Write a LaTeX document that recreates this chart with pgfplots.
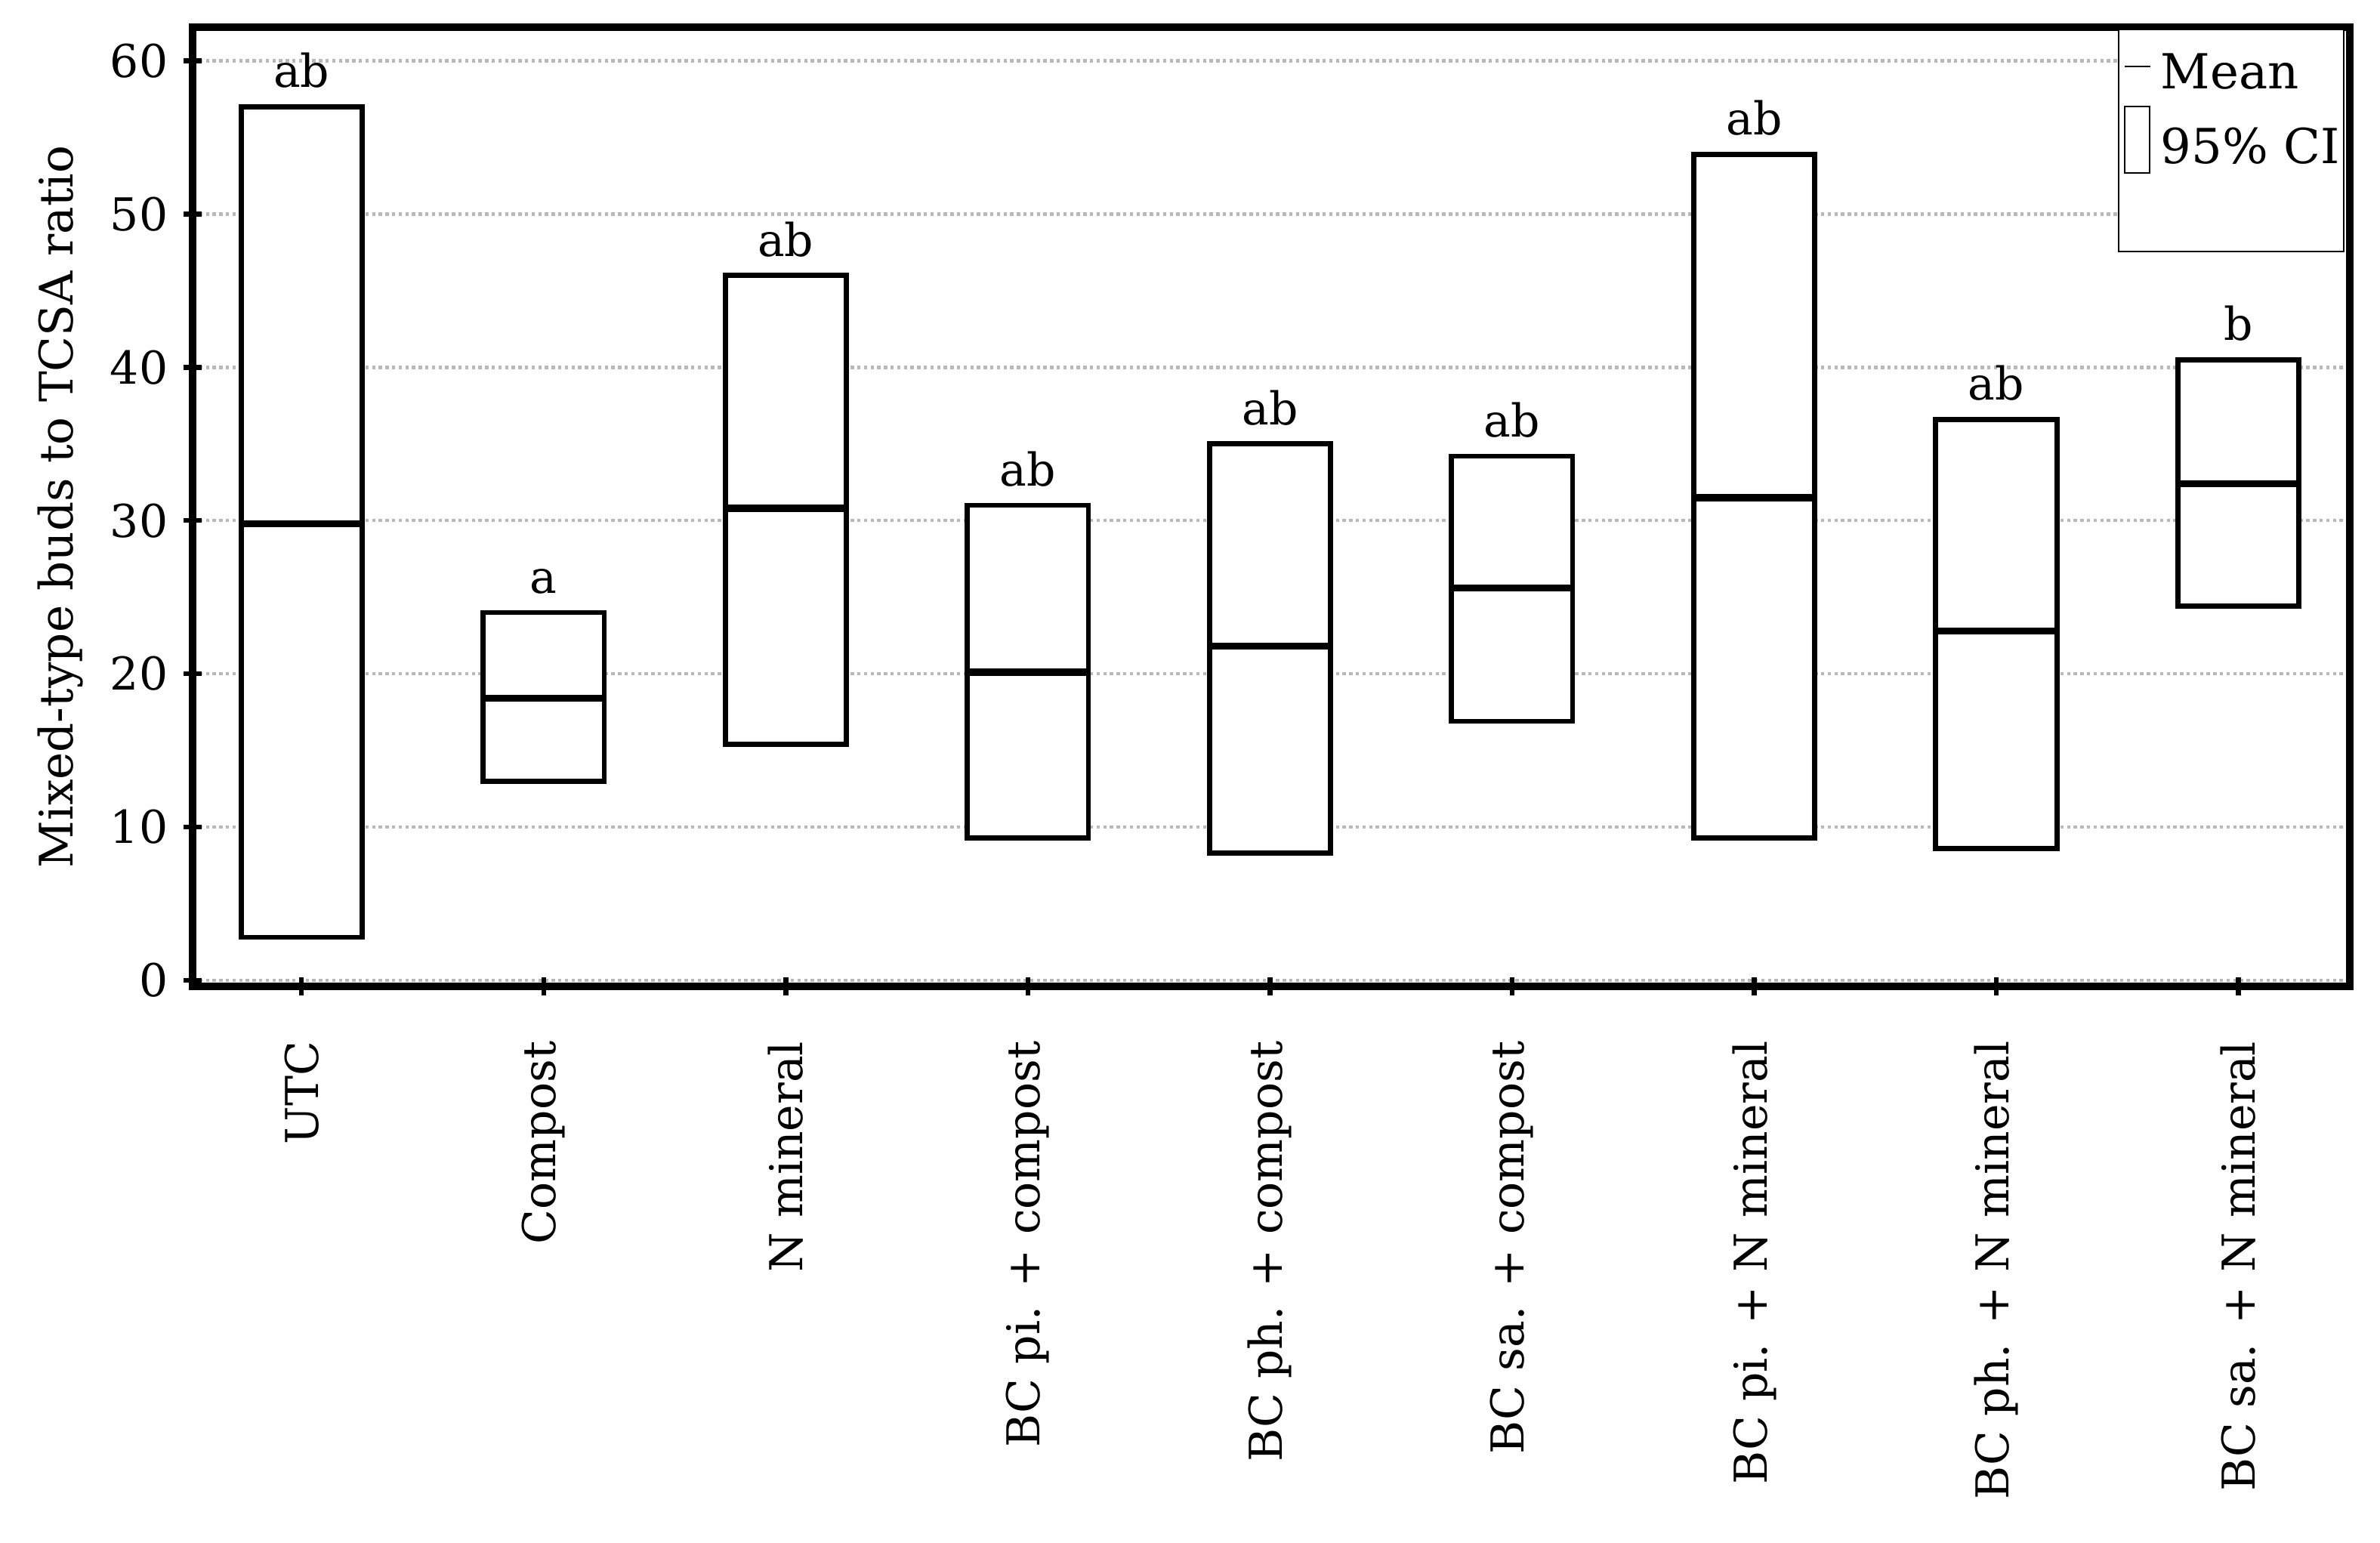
\documentclass[border=0pt]{standalone}
\usepackage{fontspec}
\setmainfont{DejaVu Serif}
\usepackage{pgfplots}
\pgfplotsset{compat=1.18}
\usepgfplotslibrary{statistics}
\definecolor{gridgray}{RGB}{185,185,185}
\begin{document}
\fontsize{15}{18}\selectfont
\begin{tikzpicture}
\begin{axis}[name=ax, scale only axis, width=714pt, height=317.5pt,
  xmin=-0.45, xmax=8.46, ymin=-0.4, ymax=62.2,
  xtick={0,1,2,3,4,5,6,7,8},
  xticklabels={UTC, Compost, N mineral, BC pi. + compost, BC ph. + compost, BC sa. + compost, BC pi. + N mineral, BC ph. + N mineral, BC sa. + N mineral},
  ytick={0,10,20,30,40,50,60},
  tick pos=left,
  tick align=center,
  major tick length=6pt,
  every tick/.style={black, line width=1.6pt},
  axis line style={line width=2.4pt},
  /pgf/number format/assume math mode=true,
  x tick label style={rotate=90, anchor=east, font=\fontsize{15}{18}\selectfont},
  xticklabel shift=10pt,
  y tick label style={font=\fontsize{15}{18}\selectfont},
  ymajorgrids,
  grid style={gridgray, line width=1.1pt, dash pattern=on 1.1pt off 1.1pt},
  ylabel={Mixed-type buds to TCSA ratio},
  ylabel style={at={(axis description cs:-0.0613,0.5)}, anchor=center, font=\fontsize{15.3}{18}\selectfont},
  boxplot/draw direction=y,
  boxplot/every median/.style={line width=2.4pt},
  boxplot/box extend=0.5,
  boxplot/whisker extend=0,
]
\addplot[boxplot prepared={draw position=0, lower whisker=2.8, lower quartile=2.8, median=29.8, upper quartile=57.0, upper whisker=57.0}, draw=black, fill=white, line width=1.7pt, solid] coordinates {};
\addplot[boxplot prepared={draw position=1, lower whisker=13.0, lower quartile=13.0, median=18.4, upper quartile=24.0, upper whisker=24.0}, draw=black, fill=white, line width=1.7pt, solid] coordinates {};
\addplot[boxplot prepared={draw position=2, lower whisker=15.4, lower quartile=15.4, median=30.8, upper quartile=46.0, upper whisker=46.0}, draw=black, fill=white, line width=1.7pt, solid] coordinates {};
\addplot[boxplot prepared={draw position=3, lower whisker=9.3, lower quartile=9.3, median=20.1, upper quartile=31.0, upper whisker=31.0}, draw=black, fill=white, line width=1.7pt, solid] coordinates {};
\addplot[boxplot prepared={draw position=4, lower whisker=8.3, lower quartile=8.3, median=21.8, upper quartile=35.0, upper whisker=35.0}, draw=black, fill=white, line width=1.7pt, solid] coordinates {};
\addplot[boxplot prepared={draw position=5, lower whisker=16.9, lower quartile=16.9, median=25.6, upper quartile=34.2, upper whisker=34.2}, draw=black, fill=white, line width=1.7pt, solid] coordinates {};
\addplot[boxplot prepared={draw position=6, lower whisker=9.3, lower quartile=9.3, median=31.5, upper quartile=53.9, upper whisker=53.9}, draw=black, fill=white, line width=1.7pt, solid] coordinates {};
\addplot[boxplot prepared={draw position=7, lower whisker=8.6, lower quartile=8.6, median=22.8, upper quartile=36.6, upper whisker=36.6}, draw=black, fill=white, line width=1.7pt, solid] coordinates {};
\addplot[boxplot prepared={draw position=8, lower whisker=24.4, lower quartile=24.4, median=32.4, upper quartile=40.5, upper whisker=40.5}, draw=black, fill=white, line width=1.7pt, solid] coordinates {};
\addplot[draw=none, mark=none, nodes near coords, point meta=explicit symbolic,
  nodes near coords style={anchor=south, inner sep=0pt, yshift=6pt, font=\fontsize{15}{18}\selectfont, text=black}]
  coordinates {(0,57.0)[ab] (1,24.0)[a] (2,46.0)[ab] (3,31.0)[ab] (4,35.0)[ab] (5,34.2)[ab] (6,53.9)[ab] (7,36.6)[ab] (8,40.5)[b]};
\end{axis}
% legend
\draw[line width=0.5pt, fill=white] ([xshift=-76.5pt,yshift=-0.75pt]ax.north east) rectangle ([xshift=-2pt,yshift=-74.25pt]ax.north east);
\draw[line width=0.6pt] ([xshift=-74.5pt,yshift=-13pt]ax.north east) -- ++(8.5pt,0);
\node[anchor=base west, inner sep=0pt, font=\fontsize{16}{19}\selectfont] at ([xshift=-62.75pt,yshift=-20.5pt]ax.north east) {Mean};
\draw[line width=0.6pt] ([xshift=-74.5pt,yshift=-26.25pt]ax.north east) rectangle ([xshift=-66.25pt,yshift=-48.25pt]ax.north east);
\node[anchor=base west, inner sep=0pt, font=\fontsize{16}{19}\selectfont] at ([xshift=-62.75pt,yshift=-45.25pt]ax.north east) {95\% CI};
\pgfresetboundingbox
\path ([xshift=-63.75pt,yshift=-184.25pt]ax.south west) rectangle ([xshift=10pt,yshift=9pt]ax.north east);
\end{tikzpicture}
\end{document}
